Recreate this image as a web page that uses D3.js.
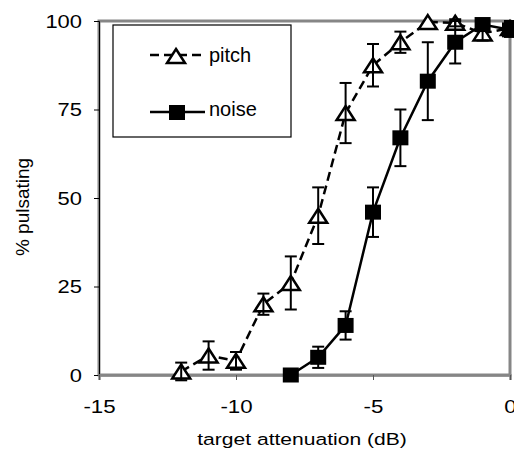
<!DOCTYPE html>
<html>
<head>
<meta charset="utf-8">
<script src="https://cdn.jsdelivr.net/npm/d3@7"></script>
<style>
  body { margin: 0; background: #fff; }
  text { font-family: "Liberation Sans", Arial, sans-serif; fill: #000; }
</style>
</head>
<body>
<svg id="chart" width="514" height="455"></svg>
<script>
// data
var pitchX = [-12, -11, -10, -9, -8, -7, -6, -5, -4, -3, -2, -1, 0];
var pitchY = [1, 5.5, 4, 20, 26, 45, 74, 87.5, 94, 99.7, 99.5, 96.5, 98];
var pitchErr = [2.5, 4, 2.5, 3, 7.5, 8, 8.5, 6, 3, 0, 1, 2, 2];

var noiseX = [-8, -7, -6, -5, -4, -3, -2, -1, 0];
var noiseY = [0, 5, 14, 46, 67, 83, 94, 99, 97.5];
var noiseErr = [0, 3, 4, 7, 8, 11, 6, 1, 2];

var xTicks = [-15, -10, -5, 0];
var yTicks = [0, 25, 50, 75, 100];
var seriesNames = ["pitch", "noise"];

var svg = d3.select("#chart");

var x = d3.scaleLinear().domain([-15, 0]).range([99, 510]);
var y = d3.scaleLinear().domain([0, 100]).range([375, 21]);

// plot area border
svg.append("rect")
	.attr("x", x(-15)).attr("y", y(100))
	.attr("width", x(0) - x(-15)).attr("height", y(0) - y(100))
	.attr("fill", "none").attr("stroke", "#868686").attr("stroke-width", 3);

// axes (plain hyphen for negatives, like the original)
var plain = function(d) { return String(d); };

var yAxis = svg.append("g")
	.attr("transform", "translate(" + x(-15) + ",0)")
	.call(d3.axisLeft(y).tickValues(yTicks).tickSize(5).tickFormat(plain));
yAxis.select(".domain").attr("stroke", "#000").attr("stroke-width", 1);
yAxis.selectAll(".tick line").attr("stroke", "#000").attr("stroke-width", 1);
yAxis.selectAll(".tick text")
	.attr("x", null).attr("dy", null)
	.attr("transform", "translate(-17,6) scale(1.22,1)")
	.style("font-size", "18px");

var xAxis = svg.append("g")
	.attr("transform", "translate(0," + y(0) + ")")
	.call(d3.axisBottom(x).tickValues(xTicks).tickSize(5).tickFormat(plain));
xAxis.select(".domain").attr("stroke", "#868686").attr("stroke-width", 2.5);
xAxis.selectAll(".tick line").attr("stroke", "#555").attr("stroke-width", 1);
xAxis.selectAll(".tick text")
	.attr("y", null).attr("dy", null)
	.attr("transform", "translate(0,38) scale(1.24,1)")
	.style("font-size", "18px");

svg.append("text")
	.attr("transform", "translate(302,445) scale(1.24,1)")
	.attr("text-anchor", "middle")
	.style("font-size", "17px")
	.text("target attenuation (dB)");

svg.append("text")
	.attr("transform", "translate(29,207) rotate(-90)")
	.attr("text-anchor", "middle")
	.style("font-size", "19px")
	.text("% pulsating");

// marker shapes
function triPath(cx, cy) {
	return "M" + cx + "," + (cy - 7) + "L" + (cx + 9) + "," + (cy + 7) + "L" + (cx - 9) + "," + (cy + 7) + "Z";
}

function drawErr(g, xs, ys, es) {
	xs.forEach(function(d, i) {
		if (es[i] <= 0) return;
		var px = x(d), top = y(ys[i] + es[i]), bot = y(ys[i] - es[i]);
		g.append("line").attr("x1", px).attr("x2", px).attr("y1", top).attr("y2", bot);
		g.append("line").attr("x1", px - 6).attr("x2", px + 6).attr("y1", top).attr("y2", top);
		g.append("line").attr("x1", px - 6).attr("x2", px + 6).attr("y1", bot).attr("y2", bot);
	});
	g.attr("stroke", "#000").attr("stroke-width", 2);
}

var line = d3.line().x(function(d) { return x(d[0]); }).y(function(d) { return y(d[1]); });

// pitch series
var pitchData = pitchX.map(function(d, i) { return [d, pitchY[i]]; });
svg.append("path")
	.datum(pitchData)
	.attr("d", line)
	.attr("fill", "none").attr("stroke", "#000").attr("stroke-width", 2.5)
	.attr("stroke-dasharray", "9,5");
svg.append("g").selectAll("path")
	.data(pitchData)
	.enter().append("path")
	.attr("d", function(d) { return triPath(x(d[0]), y(d[1])); })
	.attr("fill", "#fff").attr("stroke", "#000").attr("stroke-width", 2.5)
	.attr("stroke-linejoin", "miter");
drawErr(svg.append("g"), pitchX, pitchY, pitchErr);

// noise series
var noiseData = noiseX.map(function(d, i) { return [d, noiseY[i]]; });
svg.append("path")
	.datum(noiseData)
	.attr("d", line)
	.attr("fill", "none").attr("stroke", "#000").attr("stroke-width", 2.5);
svg.append("g").selectAll("rect")
	.data(noiseData)
	.enter().append("rect")
	.attr("x", function(d) { return x(d[0]) - 8; })
	.attr("y", function(d) { return y(d[1]) - 7.5; })
	.attr("width", 16).attr("height", 15)
	.attr("fill", "#000");
drawErr(svg.append("g"), noiseX, noiseY, noiseErr);

// legend
var legend = svg.append("g");
legend.append("rect")
	.attr("x", 113).attr("y", 25).attr("width", 178).attr("height", 112)
	.attr("fill", "#fff").attr("stroke", "#000").attr("stroke-width", 1.2);
legend.append("line")
	.attr("x1", 150).attr("x2", 205).attr("y1", 55).attr("y2", 55)
	.attr("stroke", "#000").attr("stroke-width", 2.5).attr("stroke-dasharray", "9,5");
legend.append("path")
	.attr("d", triPath(176, 56))
	.attr("fill", "#fff").attr("stroke", "#000").attr("stroke-width", 2.5);
legend.append("line")
	.attr("x1", 150).attr("x2", 205).attr("y1", 112).attr("y2", 112)
	.attr("stroke", "#000").attr("stroke-width", 2.5);
legend.append("rect")
	.attr("x", 169).attr("y", 105).attr("width", 16).attr("height", 15)
	.attr("fill", "#000");
legend.selectAll("text.lbl")
	.data(seriesNames)
	.enter().append("text")
	.attr("class", "lbl")
	.attr("x", 209)
	.attr("y", function(d, i) { return i === 0 ? 62 : 116; })
	.style("font-size", "20px")
	.text(function(d) { return d; });
</script>
</body>
</html>
